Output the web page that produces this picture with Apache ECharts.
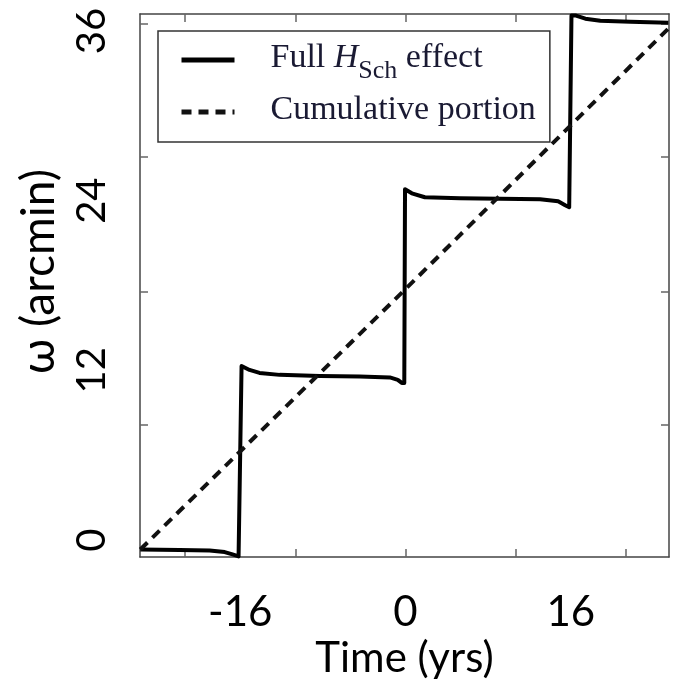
<!DOCTYPE html>
<html>
<head>
<meta charset="utf-8">
<script src="https://cdn.jsdelivr.net/npm/echarts@6/dist/echarts.min.js"></script>
<style>html,body{margin:0;padding:0;background:#fff}#c{width:681px;height:684px}</style>
</head>
<body>
<div id="c"></div>
<script>
// ---- data (years, arcmin) ----
const seriesNames = ['Full H_Sch effect', 'Cumulative portion'];
const fullX = [-25.67, -21.87, -18.96, -17.5, -16.75, -16.16, -15.97, -15.87, -15.68, -15.1, -14.13, -12.19, -8.3, -4.43, -1.52, -0.75, -0.36, -0.12, -0.05, 0.05, 0.61, 1.87, 5.27, 9.14, 13.02, 14.77, 15.45, 15.84, 15.98, 16.06, 16.5, 17.4, 18.85, 21.76, 25.44];
const fullY = [-0.67, -0.71, -0.74, -0.85, -1.02, -1.16, -1.16, 12.31, 12.39, 12.03, 11.82, 11.68, 11.6, 11.57, 11.5, 11.33, 11.11, 11.11, 24.81, 24.81, 24.52, 24.24, 24.17, 24.14, 24.1, 23.96, 23.68, 23.54, 23.54, 37.09, 37.09, 36.87, 36.73, 36.66, 36.59];
const cumX = [-25.67, 0, 25.44];
const cumY = [-0.67, 17.75, 36.17];
const xTickLabels = [-16, 0, 16];
const xTickMarks = [-21.33, -10.67, 0, 10.67, 21.33];
const yTickLabels = [0, 12, 24, 36];
const yTickMarks = [8.15, 17.54, 27.07, 36.52];
const xTitle = 'Time (yrs)';
const yTitle = 'ω (arcmin)';

const pair = (xs, ys) => xs.map((x, i) => [x, ys[i]]);

const chart = echarts.init(document.getElementById('c'), null, {renderer: 'canvas'});
const frame = {show: true, onZero: false, lineStyle: {color: '#444', width: 1.5}};
const tickStyle = {show: true, inside: true, length: 8, lineStyle: {color: '#666', width: 1.5}};
const sans = 'Lato';
const serif = 'Liberation Serif';
const legendColor = '#1a1a33';

chart.setOption({
  animation: false,
  backgroundColor: '#fff',
  grid: {left: 140, right: 12, top: 14, bottom: 127, containLabel: false, outerBoundsMode: 'none'},
  legend: {
    orient: 'vertical',
    left: 158, top: 31,
    backgroundColor: '#fff',
    borderColor: '#333', borderWidth: 1.5, borderRadius: 0,
    padding: [10, 14, 15, 21],
    itemWidth: 53, itemHeight: 14, itemGap: 9,
    itemStyle: {opacity: 0},
    lineStyle: {width: 5},
    data: seriesNames,
    formatter: function (name) {
      if (name === seriesNames[0]) return '{t|Full }{i|H}{s|Sch}{t| effect}';
      return '{t|' + name + '}';
    },
    textStyle: {
      color: legendColor, fontFamily: serif, fontSize: 34,
      padding: [0, 0, 0, 31],
      rich: {
        t: {fontFamily: serif, fontSize: 34, lineHeight: 38, color: legendColor, verticalAlign: 'top'},
        i: {fontFamily: serif, fontSize: 34, lineHeight: 38, fontStyle: 'italic', color: legendColor, verticalAlign: 'top'},
        s: {fontFamily: serif, fontSize: 26, lineHeight: 26, padding: [17, 0, 0, 0], color: legendColor, verticalAlign: 'top'}
      }
    }
  },
  xAxis: [
    {
      type: 'value', position: 'bottom', min: -25.7, max: 25.5,
      axisLine: frame,
      axisTick: Object.assign({customValues: xTickMarks}, tickStyle),
      axisLabel: {customValues: xTickLabels, margin: 34, fontFamily: sans, fontSize: 42, color: '#000'},
      splitLine: {show: false},
      name: xTitle, nameLocation: 'middle', nameGap: 78,
      nameTextStyle: {fontFamily: sans, fontSize: 42, color: '#000'}
    },
    {
      type: 'value', position: 'top', min: -25.7, max: 25.5,
      axisLine: frame,
      axisTick: Object.assign({customValues: xTickMarks}, tickStyle),
      axisLabel: {show: false},
      splitLine: {show: false}
    }
  ],
  yAxis: [
    {
      type: 'value', position: 'left', min: -1.2, max: 37.2,
      axisLine: frame,
      axisTick: Object.assign({customValues: yTickMarks}, tickStyle),
      axisLabel: {customValues: yTickLabels, rotate: 90, margin: 28, fontFamily: sans, fontSize: 40, color: '#000'},
      splitLine: {show: false},
      name: '{n|' + yTitle + '}', nameLocation: 'middle', nameRotate: 90, nameGap: 78,
      nameTextStyle: {fontFamily: sans, fontSize: 46, color: '#000',
        rich: {n: {fontFamily: sans, fontSize: 46, color: '#000', padding: [0, 0, 0, 28]}}}
    },
    {
      type: 'value', position: 'right', min: -1.2, max: 37.2,
      axisLine: frame,
      axisTick: Object.assign({customValues: yTickMarks}, tickStyle),
      axisLabel: {show: false},
      splitLine: {show: false}
    }
  ],
  series: [
    {
      name: seriesNames[0], type: 'line', data: pair(fullX, fullY),
      symbol: 'none', smooth: false,
      lineStyle: {color: '#000', width: 4, join: 'round'},
      itemStyle: {color: '#000'}
    },
    {
      name: seriesNames[1], type: 'line', data: pair(cumX, cumY),
      symbol: 'none',
      lineStyle: {color: '#111', width: 4, type: [10, 7]},
      itemStyle: {color: '#111'}
    }
  ]
});
</script>
</body>
</html>
